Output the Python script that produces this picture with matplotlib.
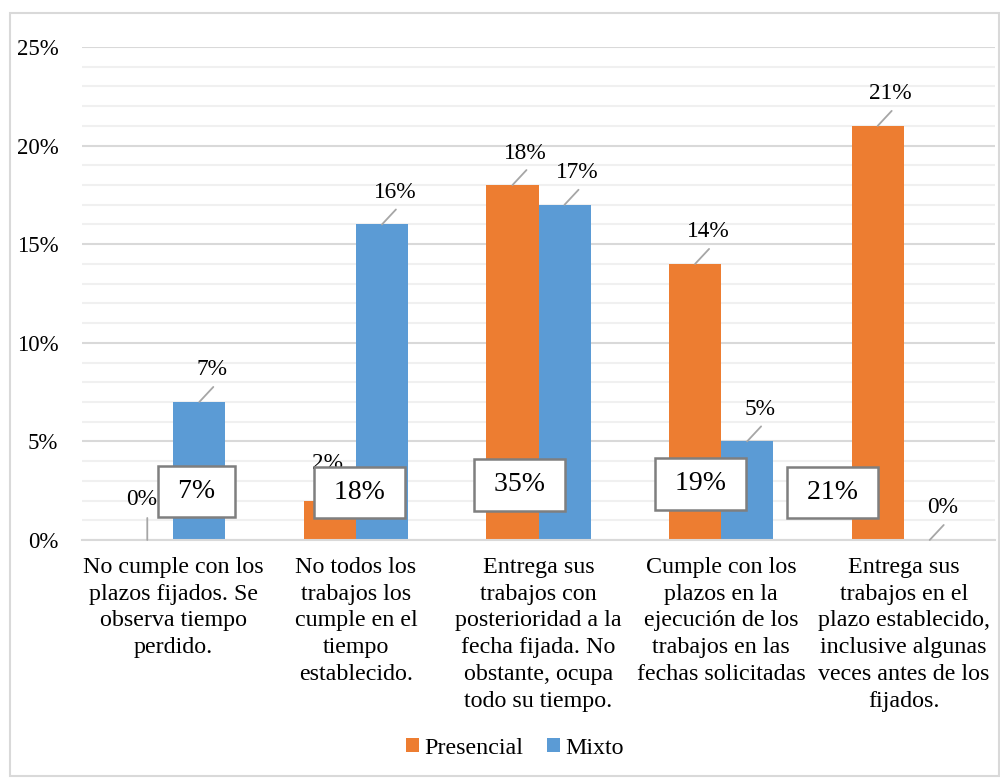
import matplotlib.pyplot as plt
from matplotlib.patches import Rectangle
from matplotlib.ticker import MultipleLocator, FuncFormatter
import numpy as np

plt.rcParams['font.family'] = ['Liberation Serif', 'DejaVu Serif']

categorias = [
    "No cumple con los\nplazos fijados. Se\nobserva tiempo\nperdido.",
    "No todos los\ntrabajos los\ncumple en el\ntiempo\nestablecido.",
    "Entrega sus\ntrabajos con\nposterioridad a la\nfecha fijada. No\nobstante, ocupa\ntodo su tiempo.",
    "Cumple con los\nplazos en la\nejecución de los\ntrabajos en las\nfechas solicitadas",
    "Entrega sus\ntrabajos en el\nplazo establecido,\ninclusive algunas\nveces antes de los\nfijados.",
]
presencial = [0, 2, 18, 14, 21]
mixto = [7, 16, 17, 5, 0]
series = ["Presencial", "Mixto"]

NARANJA = '#ED7D31'
AZUL = '#5B9BD5'
GRIS = '#a6a6a6'

fig = plt.figure(figsize=(10, 7.81), dpi=100)
ax = fig.add_axes([0.082, 0.3086, 0.913, 0.6312])

x = np.arange(len(categorias))
w = 0.285
b1 = ax.bar(x - w / 2, presencial, w, color=NARANJA, label=series[0], zorder=2)
b2 = ax.bar(x + w / 2, mixto, w, color=AZUL, label=series[1], zorder=2)

ax.set_xlim(-0.5, len(categorias) - 0.5)
ax.set_ylim(0, 25)
ax.yaxis.set_major_locator(MultipleLocator(5))
ax.yaxis.set_minor_locator(MultipleLocator(1))
ax.yaxis.set_major_formatter(FuncFormatter(lambda v, p: f"{v:.0f}%"))
ax.grid(axis='y', which='major', color='#d9d9d9', lw=1.5, zorder=0)
ax.grid(axis='y', which='minor', color='#f0f0f0', lw=1.5, zorder=0)
ax.set_axisbelow(True)
for s in ['top', 'right', 'left']:
    ax.spines[s].set_visible(False)
ax.spines['bottom'].set_color('#d9d9d9')
ax.spines['bottom'].set_linewidth(1.5)
ax.tick_params(axis='y', which='both', length=0, labelsize=16.5, pad=17)
ax.tick_params(axis='x', length=0, labelsize=17.3, pad=12)
ax.set_xticks(x)
ax.set_xticklabels(categorias, linespacing=1.37)

# etiquetas de valor con linea guia
def etiqueta(xc, v, line_off=(14, 15), text_off=(13, 32)):
    ax.annotate('', xy=(xc, v), xytext=line_off, textcoords='offset pixels',
                arrowprops=dict(arrowstyle='-', color=GRIS, lw=1.3, shrinkA=0, shrinkB=0),
                zorder=3)
    ax.annotate(f"{v}%", xy=(xc, v), xytext=text_off, textcoords='offset pixels',
                ha='center', va='center', fontsize=16.8, zorder=3)

for i, v in enumerate(presencial):
    xc = x[i] - w / 2
    if i == 0:
        etiqueta(xc, v, (0, 22), (-6, 40))
    elif i == 1:
        etiqueta(xc, v, (0, 20), (-2, 37))
    else:
        etiqueta(xc, v)
for i, v in enumerate(mixto):
    etiqueta(x[i] + w / 2, v)

# cuadros con el total por categoria
totales = [p + m for p, m in zip(presencial, mixto)]
pos_cuadro = [(0.126, 2.48), (1.02, 2.43), (1.896, 2.79), (2.885, 2.84), (3.61, 2.43)]
for t, (cx, cy) in zip(totales, pos_cuadro):
    ax.text(cx, cy, f" {t}% ", ha='center', va='center', fontsize=20, zorder=6,
            bbox=dict(boxstyle='square,pad=0.47', fc='white', ec='#7f7f7f', lw=1.8))

fig.legend(handles=[b1, b2], labels=series, loc='center',
           bbox_to_anchor=(0.515, 1 - 748 / 781), ncol=2, frameon=False,
           fontsize=17.3, handlelength=0.55, handleheight=0.55,
           handletextpad=0.2, columnspacing=1.0)

fig.patches.append(Rectangle((0.010, 0.007), 0.989, 0.976, transform=fig.transFigure,
                             fill=False, ec='#d9d9d9', lw=1.5))

fig.savefig('out.png', dpi=100)
